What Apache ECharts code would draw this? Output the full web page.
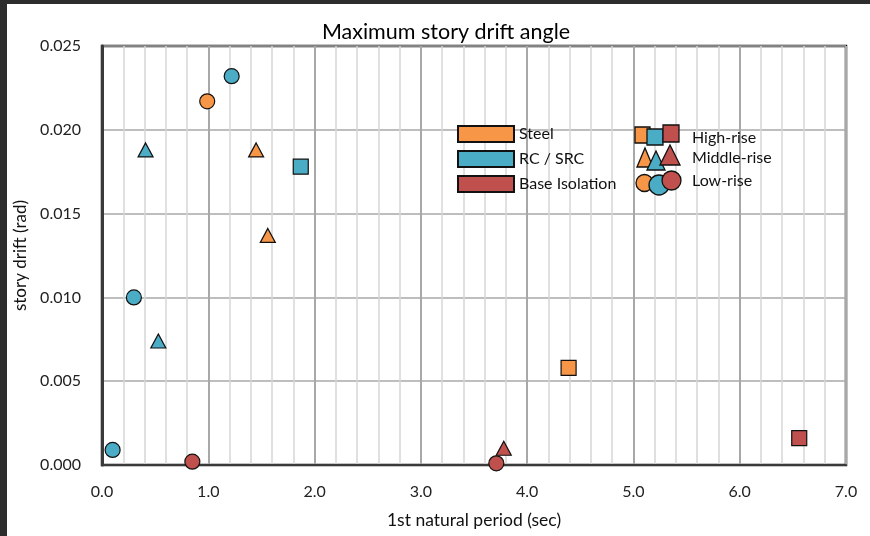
<!DOCTYPE html>
<html>
<head>
<meta charset="utf-8">
<script src="https://cdn.jsdelivr.net/npm/echarts@6/dist/echarts.min.js"></script>
<style>
html,body{margin:0;padding:0;background:#fff;}
#c{width:870px;height:536px;}
</style>
</head>
<body>
<div id="c"></div>
<script>
// Data: [period (sec), drift (rad), shape]
const steel = [
  [0.99, 0.0217, 'circle'],
  [1.45, 0.0188, 'triangle'],
  [1.56, 0.0137, 'triangle'],
  [4.39, 0.0058, 'rect']
];
const rcSrc = [
  [1.22, 0.0232, 'circle'],
  [0.41, 0.0188, 'triangle'],
  [1.87, 0.0178, 'rect'],
  [0.30, 0.0100, 'circle'],
  [0.53, 0.0074, 'triangle'],
  [0.10, 0.0009, 'circle']
];
const baseIso = [
  [0.85, 0.0002, 'circle'],
  [3.71, 0.0001, 'circle'],
  [3.78, 0.0010, 'triangle'],
  [6.56, 0.0016, 'rect']
];
const seriesNames = ['Steel', 'RC / SRC', 'Base Isolation'];
const colors = ['#F79646', '#4BACC6', '#C0504D'];
const rightLegend = ['High-rise', 'Middle-rise', 'Low-rise'];

const FONT = 'Lato';
function sizeFor(s){ return s === 'triangle' ? [15, 14] : (s === 'rect' ? [15, 15] : 15); }
function mk(name, arr, color){
  return {
    name: name, type: 'scatter',
    itemStyle: {color: color, borderColor: '#111', borderWidth: 1.2, opacity: 1},
    data: arr.map(d => ({value: [d[0], d[1]], symbol: d[2], symbolSize: sizeFor(d[2])})),
    z: 5
  };
}

const chart = echarts.init(document.getElementById('c'));
const dark = '#111';
chart.setOption({
  animation: false,
  backgroundColor: '#fff',
  title: {
    text: 'Maximum story drift angle', left: 441, top: 16, textAlign: 'center',
    textStyle: {fontFamily: FONT, fontSize: 21.5, fontWeight: 'normal', color: '#000'}
  },
  grid: {left: 102, right: 24, top: 46, bottom: 71, show: true, borderColor: '#111', borderWidth: 2.5},
  legend: {
    data: seriesNames, orient: 'vertical', left: 452, top: 120, itemWidth: 56, itemHeight: 16,
    itemGap: 7, icon: 'rect', textStyle: {fontFamily: FONT, fontSize: 16, lineHeight: 16, color: '#111'},
    selectedMode: false
  },
  xAxis: {
    type: 'value', min: 0, max: 7, interval: 1,
    name: '1st natural period (sec)', nameLocation: 'middle', nameGap: 46,
    nameTextStyle: {fontFamily: FONT, fontSize: 17.5, color: '#111'},
    axisLine: {show: true, onZero: false, lineStyle: {color: '#3a3a3a', width: 2}},
    axisTick: {show: false},
    axisLabel: {fontFamily: FONT, fontSize: 16, color: '#222', margin: 19, formatter: v => v.toFixed(1)},
    splitLine: {show: true, lineStyle: {color: '#a8a8a8', width: 2}},
    minorTick: {show: false, splitNumber: 5},
    minorSplitLine: {show: true, lineStyle: {color: '#d6d6d6', width: 1.5}}
  },
  yAxis: {
    type: 'value', min: 0, max: 0.025, interval: 0.005,
    name: 'story drift (rad)', nameLocation: 'middle', nameGap: 68,
    nameTextStyle: {fontFamily: FONT, fontSize: 17, color: '#111'},
    axisLine: {show: true, onZero: false, lineStyle: {color: '#3a3a3a', width: 3}},
    axisTick: {show: false},
    axisLabel: {fontFamily: FONT, fontSize: 16, color: '#222', margin: 21, formatter: v => v.toFixed(3)},
    splitLine: {show: true, lineStyle: {color: '#a8a8a8', width: 1.5}}
  },
  series: [mk(seriesNames[0], steel, colors[0]), mk(seriesNames[1], rcSrc, colors[1]), mk(seriesNames[2], baseIso, colors[2])],
  graphic: [
    {type: 'rect', shape: {x: 0, y: 0, width: 870, height: 4}, style: {fill: '#2d2d2d'}, z: 100},
    {type: 'rect', shape: {x: 0, y: 0, width: 7, height: 536}, style: {fill: '#2d2d2d'}, z: 100},
    // right-hand shape legend
    {type: 'rect', shape: {x: 635, y: 127, width: 15, height: 16}, style: {fill: colors[0], stroke: dark, lineWidth: 1.3}, z: 50},
    {type: 'rect', shape: {x: 647, y: 129, width: 16, height: 16}, style: {fill: colors[1], stroke: dark, lineWidth: 1.3}, z: 51},
    {type: 'rect', shape: {x: 663, y: 125, width: 16, height: 17}, style: {fill: colors[2], stroke: dark, lineWidth: 1.3}, z: 52},
    {type: 'polygon', shape: {points: [[637,167],[645,148],[653,167]]}, style: {fill: colors[0], stroke: dark, lineWidth: 1.3}, z: 50},
    {type: 'polygon', shape: {points: [[647,170],[656,151],[665,170]]}, style: {fill: colors[1], stroke: dark, lineWidth: 1.3}, z: 51},
    {type: 'polygon', shape: {points: [[660,165],[670,145],[680,165]]}, style: {fill: colors[2], stroke: dark, lineWidth: 1.3}, z: 52},
    {type: 'circle', shape: {cx: 644.5, cy: 183, r: 8.5}, style: {fill: colors[0], stroke: dark, lineWidth: 1.3}, z: 50},
    {type: 'circle', shape: {cx: 659, cy: 185, r: 10}, style: {fill: colors[1], stroke: dark, lineWidth: 1.3}, z: 51},
    {type: 'circle', shape: {cx: 671.5, cy: 180.5, r: 9.5}, style: {fill: colors[2], stroke: dark, lineWidth: 1.3}, z: 52},
    {type: 'text', x: 692, y: 138, style: {text: rightLegend[0], font: '16px ' + FONT, fill: '#111', textVerticalAlign: 'middle', verticalAlign: 'middle'}, z: 50},
    {type: 'text', x: 692, y: 158, style: {text: rightLegend[1], font: '16px ' + FONT, fill: '#111', textVerticalAlign: 'middle', verticalAlign: 'middle'}, z: 50},
    {type: 'text', x: 692, y: 181, style: {text: rightLegend[2], font: '16px ' + FONT, fill: '#111', textVerticalAlign: 'middle', verticalAlign: 'middle'}, z: 50}
  ]
});
</script>
</body>
</html>
